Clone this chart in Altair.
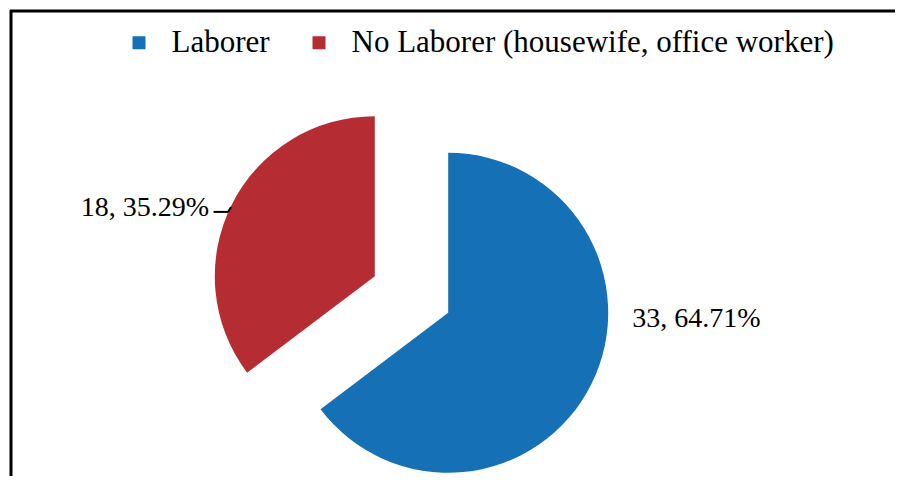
import altair as alt
import pandas as pd

categories = ["Laborer", "No Laborer (housewife, office worker)"]
counts = [33, 18]
colors = ["#1670B5", "#B52D33"]
order = [0, 1]

df = pd.DataFrame({"category": categories, "count": counts, "order": order})

W, H = 887, 468
CX, CY = 401.5, 284.5    # common pie centre
D = 41                   # explosion distance
R = 160                  # pie radius
FONT = "Liberation Serif"

base = (
    alt.Chart(df)
    .transform_joinaggregate(total="sum(count)")
    .transform_window(cum="sum(count)", sort=[alt.SortField("order")], frame=[None, 0])
    .transform_calculate(t1="datum.cum / datum.total * 2 * PI")
    .transform_calculate(t0="(datum.cum - datum.count) / datum.total * 2 * PI")
    .transform_calculate(mid="(datum.t0 + datum.t1) / 2")
    .transform_calculate(ax=f"{CX} + {D} * sin(datum.mid)")
    .transform_calculate(ay=f"{CY} - {D} * cos(datum.mid)")
    .transform_calculate(ex=f"datum.ax + {R} * sin(datum.mid)")
    .transform_calculate(ey=f"datum.ay - {R} * cos(datum.mid)")
    .transform_calculate(label="datum.count + ', ' + format(datum.count / datum.total, '.2%')")
)

pie = base.mark_arc(outerRadius=R).encode(
    theta=alt.Theta("t0:Q", scale=None, stack=None),
    theta2="t1:Q",
    x=alt.X("ax:Q", scale=None, axis=None),
    y=alt.Y("ay:Q", scale=None, axis=None),
    color=alt.Color(
        "category:N",
        scale=alt.Scale(domain=categories, range=colors),
        legend=alt.Legend(
            title=None,
            orient="none",
            legendX=113.5,
            legendY=17,
            direction="horizontal",
            symbolType="square",
            symbolSize=169,
            symbolStrokeWidth=0,
            labelFont=FONT,
            labelFontSize=31,
            labelColor="black",
            labelOffset=17,
            labelLimit=1000,
            columnPadding=33,
            padding=0,
        ),
    ),
)

right_labels = (
    base.transform_filter("sin(datum.mid) > 0")
    .transform_calculate(lx=f"datum.ax + {R} + 24", ly="datum.ay + 6")
    .mark_text(align="left", baseline="middle", font=FONT, fontSize=28, color="black")
    .encode(x=alt.X("lx:Q", scale=None), y=alt.Y("ly:Q", scale=None), text="label:N")
)

left_labels = (
    base.transform_filter("sin(datum.mid) <= 0")
    .transform_calculate(lx="datum.ex - 22.5", ly="datum.ey + 3")
    .mark_text(align="right", baseline="middle", font=FONT, fontSize=28, color="black")
    .encode(x=alt.X("lx:Q", scale=None), y=alt.Y("ly:Q", scale=None), text="label:N")
)

lead_h = (
    base.transform_filter("sin(datum.mid) <= 0")
    .transform_calculate(x1="datum.ex - 18", x2="datum.ex - 3.5", y1="datum.ey + 7")
    .mark_rule(color="black", strokeWidth=2)
    .encode(x=alt.X("x1:Q", scale=None), x2="x2:Q", y=alt.Y("y1:Q", scale=None))
)

lead_d = (
    base.transform_filter("sin(datum.mid) <= 0")
    .transform_calculate(x1="datum.ex - 3.5", x2="datum.ex - 0.5", y1="datum.ey + 7", y2="datum.ey + 2")
    .mark_rule(color="black", strokeWidth=2)
    .encode(x=alt.X("x1:Q", scale=None), x2="x2:Q", y=alt.Y("y1:Q", scale=None), y2="y2:Q")
)

one = pd.DataFrame({"a": [0]})
frame_left = alt.Chart(one).mark_rule(color="black", strokeWidth=3).encode(
    x=alt.value(1), y=alt.value(0), y2=alt.value(H)
)
frame_top = alt.Chart(one).mark_rule(color="black", strokeWidth=3).encode(
    x=alt.value(0), x2=alt.value(W), y=alt.value(1)
)

chart = (
    alt.layer(frame_left, frame_top, pie, lead_h, lead_d, right_labels, left_labels)
    .properties(
        width=W,
        height=H,
        padding=0,
        autosize=alt.AutoSizeParams(type="fit", contains="padding"),
        background="white",
    )
    .configure_view(stroke=None)
)

chart.save("out.html", embed_options={"renderer": "svg", "actions": False})
